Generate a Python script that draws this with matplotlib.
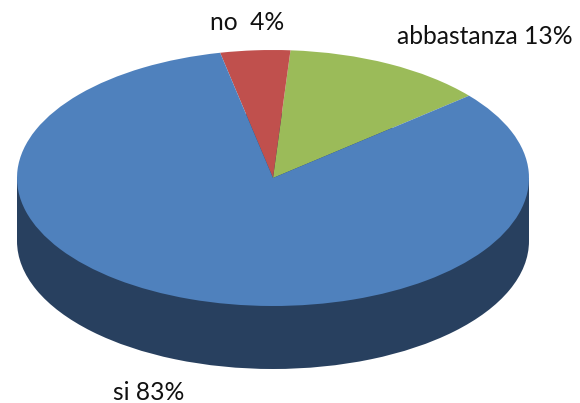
"""
3D looking pie chart: top face from ax.pie squashed into an ellipse, side wall below it
"""

import matplotlib
matplotlib.use('Agg')
import matplotlib.pyplot as plt
from matplotlib.patches import Rectangle

# data, slice sizes (the printed labels are rounded)
labels = ['abbastanza', 'no', 'si']
values = [12.8, 4.4, 82.8]
label_text = ['abbastanza 13%', 'no  4%', 'si 83%']
colors = ['#9BBB59', '#C0504D', '#4F81BD']
side_color = '#28405F'

# layout in pixels of the 580x403 picture
W, H = 580, 403
cx, cy = 273, 178
rx, ry = 256, 128
depth = 63
label_px = [(485, 36), (247, 23), (149, 392)]

fig = plt.figure(figsize=(W / 100, H / 100), dpi=100)
ax = fig.add_axes([0, 0, 1, 1])

# side wall: same pie shifted down, plus the band between both ellipses
depth_u = depth / ry
ax.pie([sum(values)], radius=1, center=(0, -depth_u), colors=[side_color],
       wedgeprops={'linewidth': 0})
ax.add_patch(Rectangle((-1, -depth_u), 2, depth_u, color=side_color, lw=0))

# top face
ax.pie(values, radius=1, center=(0, 0), colors=colors, startangle=40,
       counterclock=True, wedgeprops={'linewidth': 0})

# one data unit is rx pixels across and ry pixels down, so the circle gets squashed
ax.set_aspect('auto')
ax.set_xlim(-cx / rx, (W - cx) / rx)
ax.set_ylim(-(H - cy) / ry, cy / ry)
ax.axis('off')

for txt, (px, py) in zip(label_text, label_px):
    ax.text((px - cx) / rx, (cy - py) / ry, txt, ha='center', va='center',
            fontsize=17.7, family='Lato', color='#111111')

fig.savefig('out.png', dpi=100)
